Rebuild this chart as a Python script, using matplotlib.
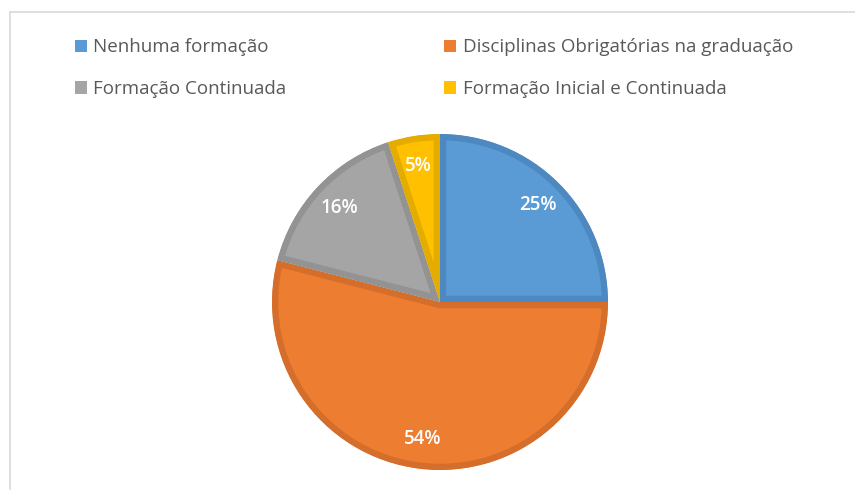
import matplotlib.pyplot as plt
from matplotlib.patches import Patch
from matplotlib.lines import Line2D

# dados do gráfico
categorias = ["Nenhuma formação", "Disciplinas Obrigatórias na graduação",
              "Formação Continuada", "Formação Inicial e Continuada"]
valores = [25, 54, 16, 5]
cores = ["#5B9BD5", "#ED7D31", "#A5A5A5", "#FFC000"]
bordas = ["#4E88C0", "#D46E2A", "#939393", "#E5AC00"]

plt.rcParams['font.family'] = ['Open Sans', 'DejaVu Sans']

fig = plt.figure(figsize=(8.55, 4.9), dpi=100)
ax = fig.add_axes([0, 0, 1, 1])

# moldura clara (topo e esquerda)
ax.add_line(Line2D([10, 855], [478, 478], color="#D9D9D9", lw=1.2))
ax.add_line(Line2D([10, 10], [0, 478], color="#D9D9D9", lw=1.2))

wedges, texts, autotexts = ax.pie(
    valores, colors=cores, startangle=90, counterclock=False,
    center=(440, 188), radius=168, autopct='%1.0f%%', pctdistance=0.82,
    textprops=dict(color='white', fontsize=13.5, fontweight='semibold'),
    frame=True)
ax.set_xlim(0, 855)
ax.set_ylim(0, 490)
ax.set_aspect('equal')
ax.axis('off')

# borda interna mais escura (linha recortada pela própria fatia)
for w, b in zip(wedges, bordas):
    w.set_edgecolor(b)
    w.set_linewidth(9)
    w.set_clip_on(True)
    w.set_clip_path(w)

# legenda em linhas: ordem de preenchimento por coluna do matplotlib
ordem = [0, 2, 1, 3]
handles = [Patch(facecolor=cores[i], edgecolor='none') for i in ordem]
rotulos = [categorias[i] for i in ordem]
fig.legend(handles, rotulos, ncol=2, loc='upper left',
           bbox_to_anchor=(67 / 855, 1 - 31 / 490), frameon=False,
           fontsize=13.5, labelcolor="#595959", handlelength=0.65,
           handleheight=0.65, handletextpad=0.35, columnspacing=8.4,
           labelspacing=1.25, borderaxespad=0)

fig.savefig("out.png", dpi=100)
